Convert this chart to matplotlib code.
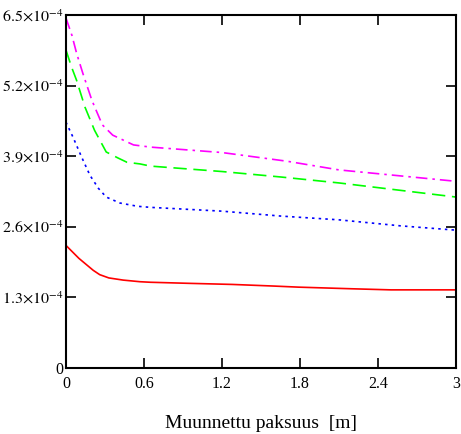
import matplotlib
matplotlib.use("Agg")
import matplotlib.pyplot as plt

plt.rcParams['font.family'] = 'Liberation Serif'
plt.rcParams['mathtext.fontset'] = 'stix'

# values (x in m, y in units of 1e-4)
x_red = [0, 0.10, 0.21, 0.26, 0.33, 0.44, 0.57, 0.65, 0.95, 1.28, 1.60, 1.79, 2.20, 2.50, 3.0]
y_red = [2.26, 2.02, 1.80, 1.72, 1.66, 1.62, 1.59, 1.58, 1.56, 1.54, 1.51, 1.49, 1.46, 1.44, 1.44]

x_blue = [0, 0.055, 0.12, 0.185, 0.25, 0.31, 0.415, 0.55, 0.65, 1.20, 1.65, 2.10, 2.57, 3.0]
y_blue = [4.53, 4.25, 3.89, 3.55, 3.31, 3.15, 3.04, 2.98, 2.96, 2.89, 2.80, 2.73, 2.62, 2.54]

x_green = [0, 0.044, 0.082, 0.146, 0.22, 0.31, 0.40, 0.47, 0.57, 0.65, 1.20, 1.65, 2.10, 3.0]
y_green = [5.86, 5.54, 5.30, 4.81, 4.38, 3.98, 3.87, 3.79, 3.76, 3.72, 3.62, 3.52, 3.41, 3.15]

x_mag = [0, 0.046, 0.082, 0.13, 0.20, 0.28, 0.36, 0.52, 0.65, 1.20, 1.70, 2.10, 3.0]
y_mag = [6.45, 6.13, 5.80, 5.43, 4.93, 4.48, 4.29, 4.11, 4.07, 3.97, 3.81, 3.65, 3.44]

yticks = [0, 1.3, 2.6, 3.9, 5.2, 6.5]
ytick_labels = ['0', r'$1.3{\times}10^{-4}$', r'$2.6{\times}10^{-4}$', r'$3.9{\times}10^{-4}$',
                r'$5.2{\times}10^{-4}$', r'$6.5{\times}10^{-4}$']
xticks = [0, 0.6, 1.2, 1.8, 2.4, 3]
xtick_labels = ['0', '0.6', '1.2', '1.8', '2.4', '3']

fig = plt.figure(figsize=(4.61, 4.34), dpi=100)
ax = fig.add_axes([0.143, 0.152, 0.846, 0.813])

s = 1e-4
ax.plot(x_red, [v * s for v in y_red], color='red', lw=1.2, ls='-')
ax.plot(x_blue, [v * s for v in y_blue], color='blue', lw=1.2, ls=(0, (1.5, 2.5)))
ax.plot(x_green, [v * s for v in y_green], color='#00ff00', lw=1.2, ls=(0, (8, 4)))
ax.plot(x_mag, [v * s for v in y_mag], color='magenta', lw=1.2, ls=(0, (7, 3, 1.5, 3)))

ax.set_xlim(0, 3)
ax.set_ylim(0, 6.5e-4)
ax.set_xticks(xticks)
ax.set_xticklabels(xtick_labels)
ax.set_yticks([v * s for v in yticks])
ax.set_yticklabels(ytick_labels)
ax.tick_params(direction='in', length=7, width=1.2, top=True, right=True,
               labelsize=11.5)
ax.tick_params(axis='x', pad=6)
ax.tick_params(axis='y', pad=2)
for sp in ax.spines.values():
    sp.set_linewidth(1.5)

ax.set_xlabel('Muunnettu paksuus  [m]', fontsize=14, labelpad=16)

fig.savefig('out.png', dpi=100)
